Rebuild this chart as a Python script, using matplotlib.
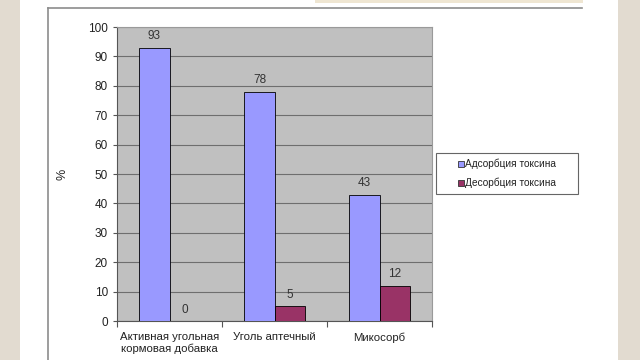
import matplotlib
matplotlib.use("Agg")
import matplotlib.pyplot as plt
from matplotlib.patches import Rectangle
from matplotlib.lines import Line2D
import numpy as np

plt.rcParams['font.family'] = ['Liberation Sans', 'DejaVu Sans']

categories = ["Активная угольная\nкормовая добавка", "Уголь аптечный", "Микосорб"]
adsorption = [93, 78, 43]
desorption = [0, 5, 12]
series_names = ["Адсорбция токсина", "Десорбция токсина"]
blue = "#9999FF"
red = "#993366"

fig = plt.figure(figsize=(6.4, 3.6), dpi=100)
fig.patch.set_facecolor("white")
T = fig.transFigure

# slide background strips
fig.patches.append(Rectangle((0, 0), 20/640, 1, transform=T,
                             facecolor="#E2DBD0", edgecolor="none", zorder=0))
fig.patches.append(Rectangle((618/640, 0), 22/640, 1, transform=T,
                             facecolor="#E2DBD0", edgecolor="none", zorder=0))
fig.patches.append(Rectangle((315/640, 1-3/360), 268/640, 3/360, transform=T,
                             facecolor="#EFE6D2", edgecolor="none", zorder=0))
# chart frame
fig.lines.append(Line2D([48/640, 48/640], [0, 1-8/360], transform=T,
                        color="#8C8C8C", lw=1.2))
fig.lines.append(Line2D([48/640, 582/640], [1-8/360, 1-8/360], transform=T,
                        color="#8C8C8C", lw=1.2))

ax = fig.add_axes([117/640, 1-321/360, 315/640, 294/360])
ax.set_facecolor("#C0C0C0")

x = np.arange(len(categories))
w = 0.286
b1 = ax.bar(x - w/2, adsorption, w, color=blue, edgecolor="black", linewidth=0.6, zorder=3)
b2 = ax.bar(x + w/2, desorption, w, color=red, edgecolor="black", linewidth=0.6, zorder=3)

for bars, vals in ((b1, adsorption), (b2, desorption)):
    for r, v in zip(bars, vals):
        ax.text(r.get_x() + r.get_width()/2, v + 1.8, str(v), ha="center", va="bottom",
                fontsize=8.5, color="#333333", zorder=4)

ax.set_xlim(-0.5, 2.5)
ax.set_ylim(0, 100)
ax.set_yticks(range(0, 101, 10))
ax.yaxis.grid(True, color="#6E6E6E", linewidth=0.8, zorder=1)
ax.set_axisbelow(True)

ax.set_xticks([-0.5, 0.5, 1.5, 2.5])
ax.set_xticklabels([])
ax.set_xticks(x, minor=True)
ax.set_xticklabels(categories, minor=True, fontsize=8.2, color="#222222")
ax.tick_params(axis="x", which="minor", length=0, pad=8)
ax.tick_params(axis="x", which="major", length=4, color="#555555")
ax.tick_params(axis="y", length=3, labelsize=8.5, labelcolor="#222222", color="#555555")

for s in ("top", "right"):
    ax.spines[s].set_color("#9A9A9A")
    ax.spines[s].set_linewidth(0.8)
for s in ("left", "bottom"):
    ax.spines[s].set_color("#555555")
    ax.spines[s].set_linewidth(0.8)

ax.set_ylabel("%", fontsize=9, color="#222222")
ax.yaxis.set_label_coords((68 - 117) / 315, 0.5)

# legend drawn as in the slide: box with small square markers
fig.patches.append(Rectangle((436/640, 1-194/360), 142/640, 41/360, transform=T,
                             facecolor="white", edgecolor="#666666", linewidth=0.8, zorder=5))
for i, (name, col) in enumerate(zip(series_names, [blue, red])):
    yc = 1 - (164 + 19*i) / 360
    fig.patches.append(Rectangle((458/640, yc - 3/360), 6/640, 6/360, transform=T,
                                 facecolor=col, edgecolor="#333333", linewidth=0.6, zorder=6))
    fig.text(465/640, yc, name, transform=T, ha="left", va="center",
             fontsize=7.3, color="#222222", zorder=7)

fig.savefig("out.png", dpi=100)
